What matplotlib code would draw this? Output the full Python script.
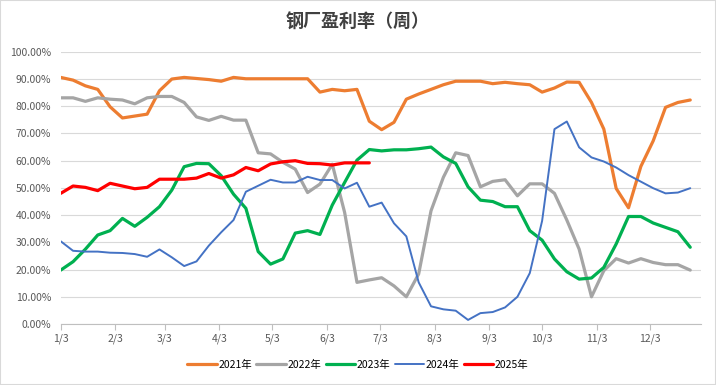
import numpy as np
import pandas as pd
import matplotlib
matplotlib.use("Agg")
import matplotlib.pyplot as plt
from matplotlib.patches import Rectangle
from matplotlib.ticker import FuncFormatter

plt.rcParams['font.family'] = ['Noto Sans CJK SC', 'DejaVu Sans']

# weekly steel mill profitability (%), one series per year
y2021 = [90.6, 89.6, 87.5, 86.2, 79.8, 75.7, 76.4, 77.1, 85.7, 90.0,
         90.6, 90.2, 89.8, 89.2, 90.6, 90.1, 90.1, 90.1, 90.1, 90.1,
         90.1, 85.2, 86.2, 85.7, 86.2, 74.5, 71.4, 74.1, 82.6, 84.5,
         86.2, 87.9, 89.2, 89.2, 89.2, 88.3, 88.8, 88.3, 87.9, 85.2,
         86.7, 88.9, 88.8, 81.4, 71.6, 49.8, 42.7, 57.9, 67.3, 79.6,
         81.4, 82.3]
y2022 = [83.1, 83.1, 81.8, 83.1, 82.6, 82.3, 80.9, 83.1, 83.6, 83.6,
         81.4, 76.1, 74.8, 76.3, 74.9, 74.9, 62.9, 62.5, 59.4, 56.9,
         48.3, 51.4, 58.7, 41.0, 15.3, 16.2, 17.0, 14.0, 10.0, 18.4,
         41.6, 53.9, 62.9, 61.9, 50.4, 52.4, 53.0, 47.1, 51.5, 51.5,
         48.0, 38.2, 27.5, 10.0, 19.6, 24.0, 22.4, 24.0, 22.6, 21.8,
         21.8, 19.8]
y2023 = [19.8, 22.9, 27.5, 32.7, 34.3, 38.8, 35.9, 39.2, 43.1, 49.2,
         57.8, 59.0, 58.9, 54.5, 47.7, 42.5, 26.6, 22.0, 23.9, 33.4,
         34.3, 32.9, 43.7, 52.0, 60.2, 64.1, 63.6, 64.0, 64.0, 64.4,
         65.0, 61.4, 59.0, 50.4, 45.5, 45.0, 43.1, 43.1, 34.3, 30.8,
         23.9, 19.2, 16.5, 16.9, 20.8, 29.4, 39.5, 39.5, 37.1, 35.5,
         33.9, 28.2]
y2024 = [30.4, 26.9, 26.6, 26.6, 26.2, 26.1, 25.7, 24.7, 27.4, 24.5,
         21.3, 23.0, 28.8, 33.7, 38.2, 48.6, 50.8, 53.0, 52.0, 52.0,
         54.1, 52.9, 52.9, 49.8, 51.9, 43.1, 44.6, 37.0, 32.2, 15.3,
         6.5, 5.4, 4.9, 1.5, 4.0, 4.4, 6.1, 10.0, 18.7, 37.9,
         71.6, 74.4, 64.9, 61.2, 59.7, 57.5, 54.7, 52.3, 49.9, 48.0,
         48.3, 49.9]
y2025 = [48.0, 50.7, 50.2, 49.0, 51.7, 50.7, 49.7, 50.2, 53.2, 53.2,
         53.2, 53.6, 55.3, 53.6, 54.8, 57.5, 56.3, 58.8, 59.6, 60.0,
         59.0, 58.9, 58.4, 59.2, 59.2, 59.2]

labels = ['2021年', '2022年', '2023年', '2024年', '2025年']
series = [y2021, y2022, y2023, y2024, y2025]
colors = ['#ED7D31', '#A5A5A5', '#00B050', '#4472C4', '#FF0000']
widths = [2.3, 2.3, 2.3, 1.4, 2.3]

weeks = pd.date_range("2021-01-03", periods=52, freq="7D")
tick_dates = pd.date_range("2021-01-01", periods=12, freq="MS") + pd.Timedelta(days=2)

fig = plt.figure(figsize=(7.16, 3.85), dpi=100)
ax = fig.add_axes([0.0848, 0.1584, 0.894, 0.707])

for vals, lab, col, lw in zip(series, labels, colors, widths):
    ax.plot(weeks[:len(vals)], vals, color=col, lw=lw, label=lab,
            solid_joinstyle='round', solid_capstyle='round')

ax.set_ylim(0, 100)
ax.set_yticks(np.arange(0, 101, 10))
ax.yaxis.set_major_formatter(FuncFormatter(lambda v, p: f"{v:.2f}%"))
ax.set_xlim(weeks[0], pd.Timestamp("2022-01-01"))
ax.set_xticks(tick_dates)
ax.set_xticklabels([f"{d.month}/{d.day}" for d in tick_dates])

ax.grid(axis='y', color='#D9D9D9', lw=0.8)
ax.set_axisbelow(True)
for s in ['left', 'top', 'right']:
    ax.spines[s].set_visible(False)
ax.spines['bottom'].set_color('#BFBFBF')
ax.tick_params(axis='y', length=0, pad=7, labelsize=7.5, labelcolor='#595959')
ax.tick_params(axis='x', length=4, color='#BFBFBF', pad=3, labelsize=7.5,
               labelcolor='#595959')

fig.text(0.5, 1 - 22 / 385, "钢厂盈利率（周）", ha='center', va='center',
         fontsize=13, fontweight='bold', color='#404040')

fig.legend(loc='center', bbox_to_anchor=(0.5, 1 - 365 / 385), ncol=5,
           frameon=False, fontsize=7.5, handlelength=2.8, handletextpad=0.2,
           columnspacing=0.4)

fig.patches.append(Rectangle((0, 0), 1, 1, transform=fig.transFigure,
                             fill=False, edgecolor='#D9D9D9', lw=1.5))

fig.savefig("out.png", dpi=100)
